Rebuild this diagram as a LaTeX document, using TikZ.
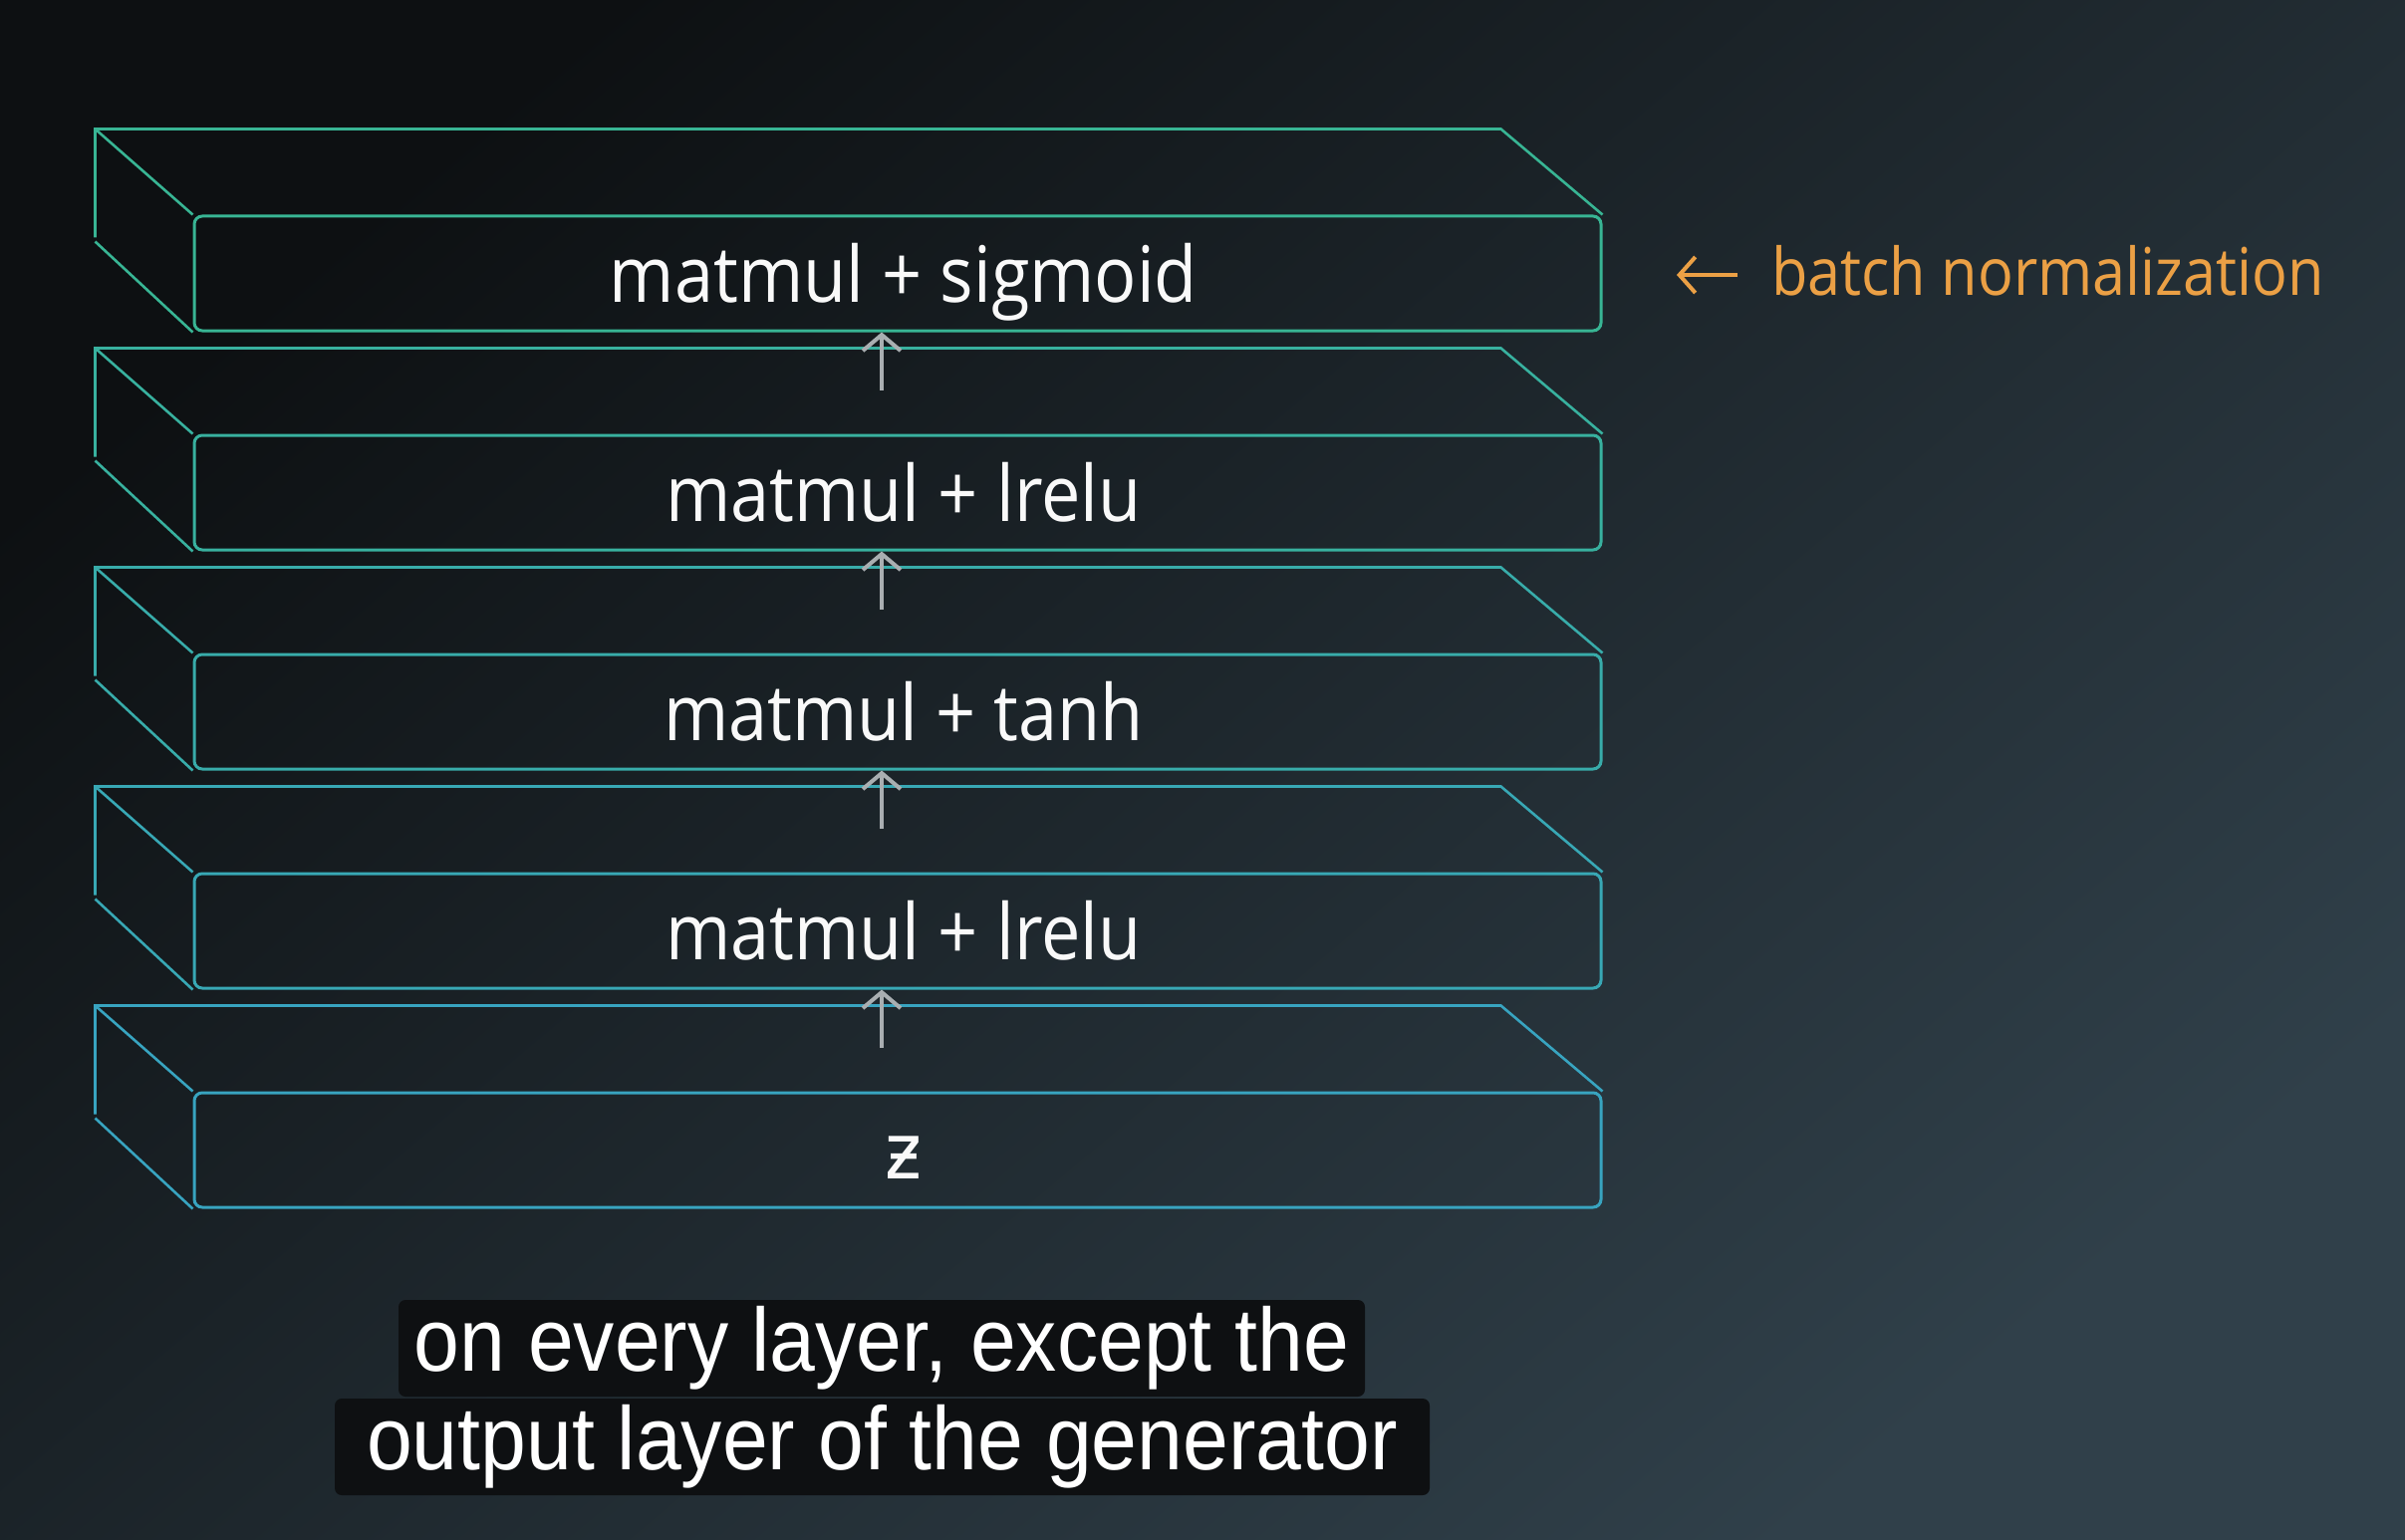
\documentclass[tikz,border=0pt]{standalone}
\usepackage{fontspec}
\usetikzlibrary{calc,arrows.meta}
\newfontfamily\osans[FakeStretch=0.9]{Open Sans}
\newfontfamily\capfont[FakeStretch=0.915]{Liberation Sans}
\newfontfamily\dvs[FakeStretch=0.9]{DejaVu Sans}
\definecolor{bgA}{HTML}{0D1012}
\definecolor{bgB}{HTML}{1D252A}
\definecolor{bgC}{HTML}{30404A}
\definecolor{slabA}{RGB}{56,181,148}
\definecolor{slabE}{RGB}{56,164,192}
\colorlet{slab0}{slabA}
\colorlet{slab1}{slabE!25!slabA}
\colorlet{slab2}{slabE!50!slabA}
\colorlet{slab3}{slabE!75!slabA}
\colorlet{slab4}{slabE}
\definecolor{arrowgray}{HTML}{A9AEB1}
\definecolor{bnorange}{HTML}{EBA045}
\definecolor{capbg}{HTML}{0E1012}
\tikzset{
  frontbox/.style={draw, line width=3pt, rounded corners=8pt, minimum width=1412pt,
    minimum height=115pt, inner sep=0pt, text height=70pt, text depth=13pt,
    text=white!95!gray, font=\osans\fontsize{78}{90}\selectfont},
  backline/.style={line width=2.6pt},
  uparrow/.style={draw=arrowgray, line width=4pt, -{Straight Barb[length=16pt,width=38pt]}},
  bnarrow/.style={draw=bnorange, line width=4pt, -{Straight Barb[length=16pt,width=36pt]}},
  capbox/.style={fill=capbg, rounded corners=7pt, inner sep=0pt, minimum height=97pt,
    text=white, font=\capfont\fontsize{90}{100}\selectfont}
}
\begin{document}
\begin{tikzpicture}[x=1pt,y=-1pt]
\useasboundingbox (0,0) rectangle (2414,1546);
\shade[top color=bgA, middle color=bgB, bottom color=bgC, shading angle=40] (0,0) rectangle (2414,1546);

% slabs
\foreach \i/\txt in {0/matmul + sigmoid,1/matmul + lrelu,2/matmul + tanh,3/matmul + lrelu,4/{{\dvs ƶ}}}{
  \node[frontbox, draw=slab\i] (f\i) at (901,274.5+220*\i) {\hspace*{12pt}\txt};
  \coordinate (b\i) at ($(f\i.north west)+(-98,-86)$);
  \draw[backline, slab\i] ($(b\i)+(0,109)$) -- (b\i) -- ($(f\i.north east)+(-102,-86)$) -- (f\i.north east);
  \draw[backline, slab\i] (b\i) -- (f\i.north west);
  \draw[backline, slab\i] ($(b\i)+(0,113)$) -- (f\i.south west);
}

% arrows between layers
\foreach \i in {0,1,2,3}{
  \coordinate (a\i) at (885,392+220*\i);
  \draw[uparrow] (a\i) -- (a\i |- f\i.south);
}

% batch normalization label
\node[anchor=west, inner sep=0pt, text=bnorange, font=\osans\fontsize{66}{76}\selectfont] (bn) at (1778,272)
  {batch normalization};
\coordinate (bntip) at (1683,276);
\draw[bnarrow] ($(bn.west)+(-34,4)$) -- (bntip);

% captions
\node[capbox, minimum width=970pt] (cap1) at (885,1353.5) {on every layer, except the};
\node[capbox, minimum width=1099pt] (cap2) at (885.5,1452.5) {output layer of the generator};
\end{tikzpicture}
\end{document}
